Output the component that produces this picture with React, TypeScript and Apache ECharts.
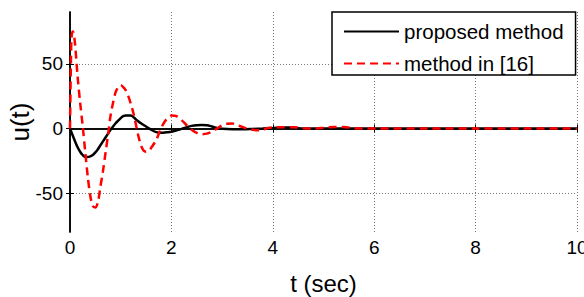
import React, { useEffect, useRef } from "react";
import * as echarts from "echarts";

const FONT = "'Liberation Sans', Arial, sans-serif";

// proposed method
const tProposed = [0, 0.05, 0.1, 0.15, 0.2, 0.25, 0.3, 0.35, 0.4, 0.45, 0.5, 0.55, 0.6, 0.65, 0.7, 0.75, 0.8, 0.85, 0.9, 0.95, 1.0, 1.05, 1.1, 1.2, 1.3, 1.4, 1.5, 1.6, 1.7, 1.8, 1.9, 2.0, 2.1, 2.2, 2.3, 2.4, 2.5, 2.6, 2.7, 2.8, 2.9, 3.0, 3.2, 3.4, 3.6, 3.8, 4.0, 4.2, 4.4, 4.5, 4.6, 5, 6, 7, 8, 9, 10];
const uProposed = [0, -5, -10, -14.5, -18, -20.5, -22, -22, -21.5, -20.5, -18.5, -16, -13, -10, -7, -4, -1, 1.5, 4, 6, 8, 9.5, 10, 10, 7, 4, 1.5, -1, -2.8, -3.4, -3, -2.5, -1.5, -0.3, 1, 2, 2.5, 2.6, 2.5, 1.5, 0.3, -0.3, -0.6, -0.6, -0.4, -0.1, 0.3, 0.8, 0.8, 0.2, 0, 0, 0, 0, 0, 0, 0];

// method in [16]
const tRef = [0, 0.01, 0.02, 0.03, 0.05, 0.07, 0.1, 0.15, 0.2, 0.25, 0.3, 0.35, 0.4, 0.45, 0.5, 0.55, 0.6, 0.65, 0.7, 0.75, 0.8, 0.85, 0.9, 0.95, 1.0, 1.05, 1.1, 1.15, 1.2, 1.25, 1.3, 1.35, 1.4, 1.45, 1.5, 1.55, 1.6, 1.7, 1.8, 1.9, 2.0, 2.1, 2.2, 2.3, 2.4, 2.5, 2.6, 2.7, 2.8, 2.9, 3.0, 3.1, 3.2, 3.3, 3.4, 3.5, 3.6, 3.7, 3.8, 3.9, 4.0, 4.2, 4.4, 4.6, 4.8, 5.0, 5.2, 5.4, 5.6, 5.8, 6, 7, 8, 9, 10];
const uRef = [0, 30, 55, 70, 75, 74, 65, 40, 20, 2, -18, -37, -52, -60, -61, -57, -45, -33, -19, -5, 10, 20, 28, 32, 33.5, 32, 29.5, 25, 19, 12, 3, -6, -13, -17, -18, -17.5, -15, -9, 0.5, 7, 10, 9.5, 6.5, 2.5, -1, -3.4, -4.4, -4, -2.5, 0, 2.5, 3.6, 3.8, 2.5, 1.2, -0.2, -1, -1.3, -1.1, 0.3, 0.8, 1, 1, 0.2, 0, 0.5, 1.2, 1.2, 0.2, 0, 0, 0, 0, 0, 0];

const xTicks = [0, 2, 4, 6, 8, 10];
const yTicks = [-50, 0, 50];

export default function App() {
  const ref = useRef<HTMLDivElement>(null);
  useEffect(() => {
    if (!ref.current) return;
    const chart = echarts.init(ref.current, null, { renderer: "svg" });
    const gridLine = { show: true, lineStyle: { color: "#777", type: [1, 2], width: 1 } };
    const axisLine = { show: true, lineStyle: { color: "#000", width: 1.5 } };
    chart.setOption({
      animation: false,
      grid: { left: 70, right: 7, top: 12, bottom: 65, outerBoundsMode: "none", containLabel: false },
      legend: {
        orient: "vertical",
        left: 332,
        top: 12,
        backgroundColor: "#fff",
        borderColor: "#000",
        borderWidth: 1.5,
        borderRadius: 0,
        padding: [9, 12, 1, 11],
        itemGap: 11,
        itemWidth: 55,
        itemHeight: 14,
        itemStyle: { opacity: 0, borderWidth: 0 },
        textStyle: { fontSize: 20.5, color: "#000", fontFamily: FONT, lineHeight: 20 },
        data: ["proposed method", "method in [16]"],
      },
      xAxis: [
        {
          type: "value",
          min: xTicks[0],
          max: xTicks[xTicks.length - 1],
          interval: 2,
          axisLine,
          axisTick: { inside: true, length: 4, lineStyle: { color: "#000" } },
          axisLabel: { fontSize: 19, color: "#000", fontFamily: FONT, margin: 6 },
          splitLine: gridLine,
          name: "t (sec)",
          nameLocation: "middle",
          nameGap: 39,
          nameMoveOverlap: false,
          nameTextStyle: { fontSize: 24, color: "#000", fontFamily: FONT },
        },
        {
          type: "value",
          position: "top",
          min: xTicks[0],
          max: xTicks[xTicks.length - 1],
          interval: 2,
          axisLine,
          axisTick: { inside: true, length: 4, lineStyle: { color: "#000" } },
          axisLabel: { show: false },
          splitLine: { show: false },
        },
      ],
      yAxis: [
        {
          type: "value",
          min: -80,
          max: 90,
          axisLine,
          axisTick: { inside: true, length: 4, customValues: yTicks, lineStyle: { color: "#000" } },
          axisLabel: { customValues: yTicks, fontSize: 19, color: "#000", fontFamily: FONT, margin: 7 },
          splitLine: gridLine,
          name: "u(t)",
          nameLocation: "middle",
          nameGap: 37,
          nameMoveOverlap: false,
          nameTextStyle: { fontSize: 26, color: "#000", fontFamily: FONT },
        },
        {
          type: "value",
          position: "right",
          min: -80,
          max: 90,
          axisLine,
          axisTick: { inside: true, length: 4, customValues: yTicks, lineStyle: { color: "#000" } },
          axisLabel: { show: false },
          splitLine: { show: false },
        },
      ],
      series: [
        {
          name: "proposed method",
          type: "line",
          showSymbol: false,
          symbol: "none",
          smooth: 0.3,
          data: tProposed.map((t, i) => [t, uProposed[i]]),
          lineStyle: { color: "#000", width: 2.5 },
          itemStyle: { color: "#000" },
          z: 3,
        },
        {
          name: "method in [16]",
          type: "line",
          showSymbol: false,
          symbol: "none",
          smooth: 0.3,
          data: tRef.map((t, i) => [t, uRef[i]]),
          lineStyle: { color: "#ff0000", width: 2.5, type: [8, 5] },
          itemStyle: { color: "#ff0000" },
          z: 4,
        },
      ],
    });
    return () => chart.dispose();
  }, []);
  return <div ref={ref} style={{ width: 584, height: 297, position: "absolute", left: 0, top: 0, background: "#fff" }} />;
}
